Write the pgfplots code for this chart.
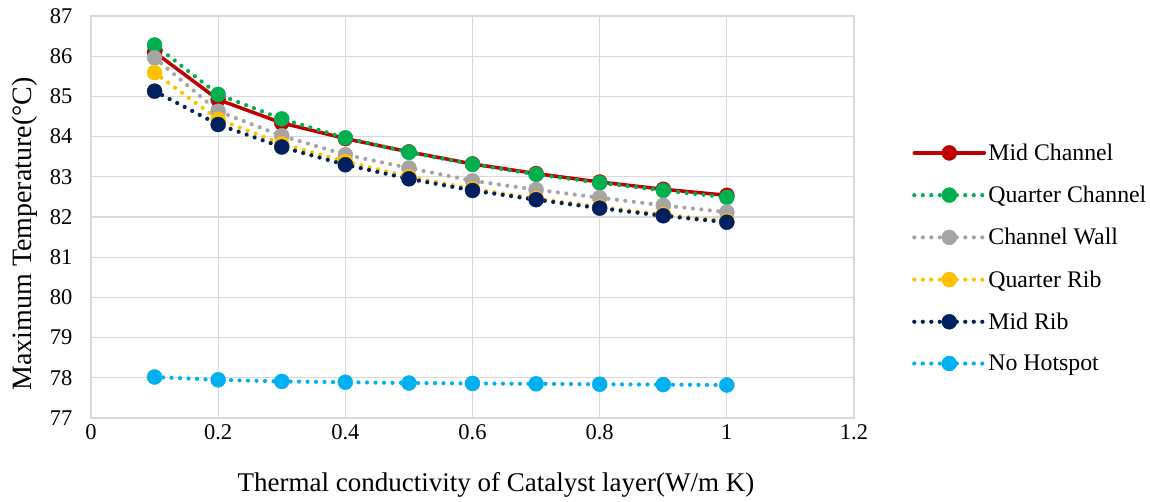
\documentclass[border=0pt]{standalone}
\usepackage{pgfplots}
\pgfplotsset{compat=1.18}
\usepackage{fontspec}
\setmainfont{Liberation Serif}
\definecolor{cRed}{RGB}{192,0,0}
\definecolor{cGreen}{RGB}{0,176,80}
\definecolor{cGray}{RGB}{165,165,165}
\definecolor{cGold}{RGB}{255,192,0}
\definecolor{cNavy}{RGB}{0,32,96}
\definecolor{cBlue}{RGB}{0,176,240}
\definecolor{cGrid}{RGB}{217,217,217}
\begin{document}
\begin{tikzpicture}
\useasboundingbox (-91pt,-84pt) rectangle (1059pt,418pt);
\begin{axis}[
  at={(0,0)}, anchor=south west,
  scale only axis, width=763pt, height=402pt,
  xmin=0, xmax=1.2, ymin=77, ymax=87,
  xtick={0,0.2,0.4,0.6,0.8,1,1.2},
  xticklabels={0,0.2,0.4,0.6,0.8,1,1.2},
  ytick={77,78,...,87},
  major tick length=0pt,
  grid=major,
  grid style={cGrid, line width=1.3pt},
  axis line style={cGrid, line width=1.3pt},
  ticklabel style={font=\fontsize{22.5}{25}\selectfont, text=black},
  /pgf/number format/assume math mode=true,
  yticklabel style={xshift=-15pt},
  xticklabel style={yshift=-3pt},
  xlabel={Thermal conductivity of Catalyst layer(W/m K)},
  ylabel={Maximum Temperature(°C)},
  xlabel style={font=\fontsize{27}{29}\selectfont, at={(axis description cs:0.5308,-0.1667)}, anchor=center},
  ylabel style={font=\fontsize{28}{30}\selectfont, at={(axis description cs:-0.0865,0.4577)}, anchor=center, rotate=0},
  legend style={at={(axis description cs:1.076,0.398)}, anchor=west, draw=none, fill=none,
     font=\fontsize{23.8}{26}\selectfont, row sep=20.2pt, inner sep=0pt,
     /tikz/every even column/.append style={column sep=8pt}},
  legend cell align=left,
  legend image code/.code={\draw[mark repeat=2,mark phase=2,#1] plot coordinates {(0pt,0pt)(35pt,0pt)(70pt,0pt)};},
  every axis plot/.append style={line width=3.5pt, line cap=round, mark=*, mark size=7.5pt},
  dotline/.style={line width=4.2pt, dash pattern=on 0pt off 8.5pt},
  clip=false,
]
\addplot[cRed, mark options={solid, line width=0.4pt, fill=cRed, draw=cRed}] coordinates {
(0.1,86.10)(0.2,84.92)(0.3,84.34)(0.4,83.95)(0.5,83.62)(0.6,83.32)(0.7,83.08)(0.8,82.87)(0.9,82.69)(1.0,82.54)};
\addlegendentry{Mid Channel}
\addplot[cGreen, dotline, mark options={solid, line width=0.4pt, fill=cGreen, draw=cGreen}] coordinates {
(0.1,86.28)(0.2,85.05)(0.3,84.44)(0.4,83.97)(0.5,83.61)(0.6,83.31)(0.7,83.06)(0.8,82.85)(0.9,82.66)(1.0,82.49)};
\addlegendentry{Quarter Channel}
\addplot[cGray, dotline, mark options={solid, line width=0.4pt, fill=cGray, draw=cGray}] coordinates {
(0.1,85.96)(0.2,84.63)(0.3,84.02)(0.4,83.55)(0.5,83.22)(0.6,82.90)(0.7,82.68)(0.8,82.48)(0.9,82.29)(1.0,82.12)};
\addlegendentry{Channel Wall}
\addplot[cGold, dotline, mark options={solid, line width=0.4pt, fill=cGold, draw=cGold}] coordinates {
(0.1,85.59)(0.2,84.43)(0.3,83.82)(0.4,83.38)(0.5,83.00)(0.6,82.70)(0.7,82.46)(0.8,82.25)(0.9,82.06)(1.0,81.90)};
\addlegendentry{Quarter Rib}
\addplot[cNavy, dotline, mark options={solid, line width=0.4pt, fill=cNavy, draw=cNavy}] coordinates {
(0.1,85.13)(0.2,84.30)(0.3,83.74)(0.4,83.30)(0.5,82.95)(0.6,82.66)(0.7,82.43)(0.8,82.22)(0.9,82.03)(1.0,81.87)};
\addlegendentry{Mid Rib}
\addplot[cBlue, dotline, mark options={solid, line width=0.4pt, fill=cBlue, draw=cBlue}] coordinates {
(0.1,78.02)(0.2,77.95)(0.3,77.91)(0.4,77.89)(0.5,77.87)(0.6,77.86)(0.7,77.85)(0.8,77.84)(0.9,77.83)(1.0,77.82)};
\addlegendentry{No Hotspot}
\end{axis}
\end{tikzpicture}
\end{document}
